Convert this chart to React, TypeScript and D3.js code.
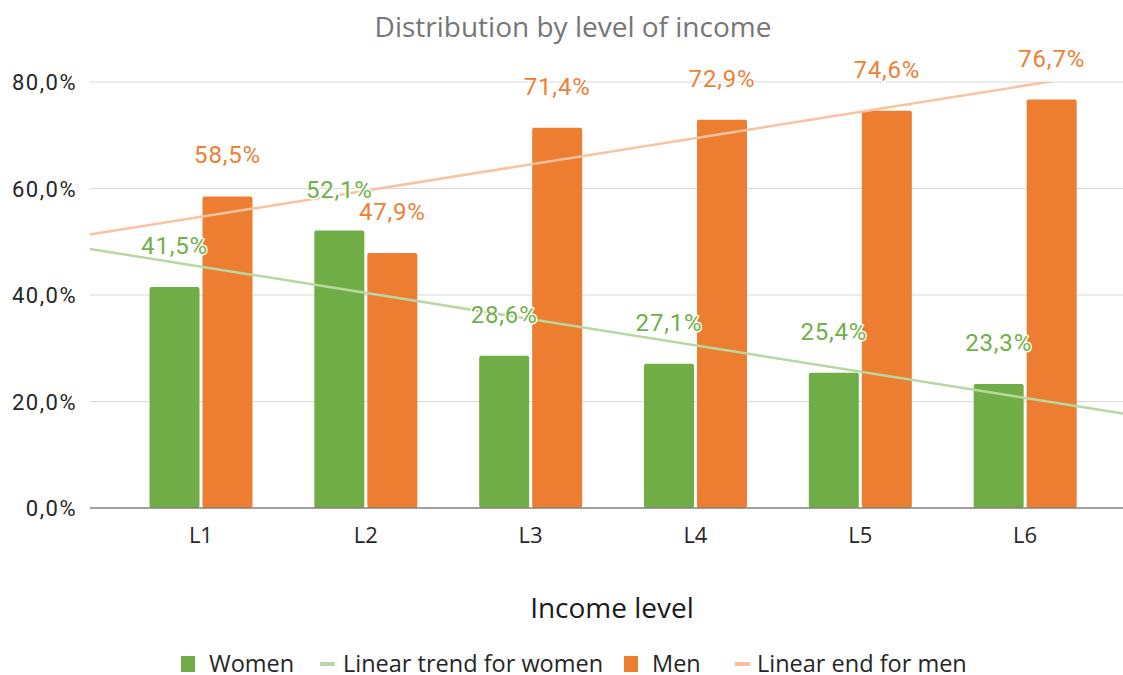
import React from 'react';
import * as d3 from 'd3';

const levels = ['L1', 'L2', 'L3', 'L4', 'L5', 'L6'];
const women = [41.5, 52.1, 28.6, 27.1, 25.4, 23.3];
const men = [58.5, 47.9, 71.4, 72.9, 74.6, 76.7];
const yTicks = [0, 20, 40, 60, 80];

const GREEN = '#70ad47';
const ORANGE = '#ed7d31';
const GREEN_TREND = '#b7d8a1';
const ORANGE_TREND = '#f7c3a0';

const width = 1123;
const height = 675;
const plotLeft = 90;
const plotRight = 1123;
const plotTop = 82;
const plotBottom = 508;

const locale = d3.formatLocale({ decimal: ',', thousands: '.', grouping: [3], currency: ['', '€'] });
const fmt = locale.format('.1f');

// least squares fit over category index
function trend(values: number[]) {
  const xs = values.map((_, i) => i);
  const mx = d3.mean(xs) as number;
  const my = d3.mean(values) as number;
  const slope =
    d3.sum(xs, (x, i) => (x - mx) * (values[i] - my)) / d3.sum(xs, x => (x - mx) * (x - mx));
  return (i: number) => my + slope * (i - mx);
}

export default function App() {
  const x = d3.scaleBand<string>().domain(levels).range([118.5, 1107.5]).padding(0);
  const sub = d3.scaleBand<string>().domain(['Women', 'Men']).range([0, 103]).paddingInner(0.057);
  const y = d3.scaleLinear().domain([0, 80]).range([plotBottom, plotTop]);

  const center = (i: number) => (x(levels[i]) as number) + x.bandwidth() / 2;
  const idx = d3.scaleLinear().domain([0, levels.length - 1]).range([center(0), center(levels.length - 1)]);

  const trendLine = (values: number[]) => {
    const f = trend(values);
    const pts = [plotLeft, plotRight].map(px => [px, y(f(idx.invert(px)))] as [number, number]);
    return d3.line()(pts) as string;
  };

  const series = [
    { name: 'Women', values: women, color: GREEN, label: '#6fb04a' },
    { name: 'Men', values: men, color: ORANGE, label: '#ee7f37' },
  ];

  const legend = [
    { text: 'Women', kind: 'box', color: GREEN, x: 181, tx: 209 },
    { text: 'Linear trend for women', kind: 'line', color: GREEN_TREND, x: 320, tx: 343 },
    { text: 'Men', kind: 'box', color: ORANGE, x: 624, tx: 652 },
    { text: 'Linear end for men', kind: 'line', color: ORANGE_TREND, x: 735, tx: 757 },
  ];

  return (
    <svg width={width} height={height} style={{ position: 'absolute', left: 0, top: 0, background: '#fff' }}>
      <defs>
        <clipPath id="plot">
          <rect x={0} y={plotTop} width={width} height={plotBottom - plotTop + 200} />
        </clipPath>
      </defs>
      <text x={573} y={37} textAnchor="middle" fontFamily="Open Sans" fontSize={28} fill="#767676">
        Distribution by level of income
      </text>

      {yTicks.map(t => (
        <g key={t}>
          {t > 0 && <line x1={plotLeft} x2={plotRight} y1={y(t)} y2={y(t)} stroke="#d9d9d9" strokeWidth={1} />}
          <text x={77} y={y(t) + 8} textAnchor="end" fontFamily="Roboto" fontSize={22} letterSpacing={1.5} fill="#262626">
            {fmt(t)}%
          </text>
        </g>
      ))}

      {series.map(s => (
        <g key={s.name}>
          {s.values.map((v, i) => (
            <rect
              key={i}
              x={(x(levels[i]) as number) + 31 + (sub(s.name) as number)}
              y={y(v)}
              width={sub.bandwidth()}
              height={plotBottom - y(v)}
              rx={2}
              fill={s.color}
            />
          ))}
        </g>
      ))}

      <line x1={plotLeft} x2={plotRight} y1={plotBottom} y2={plotBottom} stroke="#7f7f7f" strokeWidth={1.5} />

      <g clipPath="url(#plot)">
        <path d={trendLine(women)} stroke={GREEN_TREND} strokeWidth={2.5} fill="none" />
        <path d={trendLine(men)} stroke={ORANGE_TREND} strokeWidth={2.5} fill="none" />
      </g>

      {series.map(s => (
        <g key={s.name + 'l'}>
          {s.values.map((v, i) => (
            <text
              key={i}
              x={(x(levels[i]) as number) + 31 + (sub(s.name) as number) + sub.bandwidth() / 2}
              y={y(v) - 33}
              textAnchor="middle"
              fontFamily="Roboto"
              fontSize={24}
              letterSpacing={0.8}
              fill={s.label}
              stroke="#fff"
              strokeWidth={3}
              paintOrder="stroke"
            >
              {fmt(v)}%
            </text>
          ))}
        </g>
      ))}

      {levels.map((l, i) => (
        <text key={l} x={center(i)} y={543} textAnchor="middle" fontFamily="Open Sans" fontSize={22} fill="#262626">
          {l}
        </text>
      ))}

      <text x={612} y={618} textAnchor="middle" fontFamily="Open Sans" fontSize={28} fill="#1a1a1a">
        Income level
      </text>

      {legend.map(item => (
        <g key={item.text}>
          {item.kind === 'box' ? (
            <rect x={item.x} y={656} width={14} height={16} fill={item.color} />
          ) : (
            <rect x={item.x} y={662} width={15} height={4} fill={item.color} />
          )}
          <text x={item.tx} y={672} fontFamily="Open Sans" fontSize={23.5} fill="#262626">
            {item.text}
          </text>
        </g>
      ))}
    </svg>
  );
}
